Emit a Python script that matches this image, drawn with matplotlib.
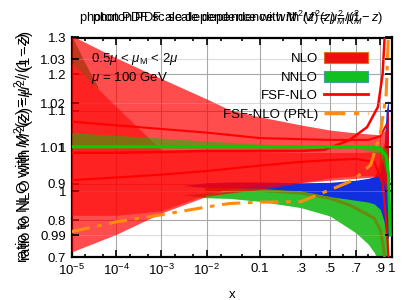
import numpy as np
import matplotlib
matplotlib.use("Agg")
import matplotlib.pyplot as plt
from matplotlib.patches import Patch
from matplotlib.lines import Line2D

plt.rcParams['font.family'] = ['Liberation Sans', 'DejaVu Sans']
plt.rcParams['mathtext.fontset'] = 'custom'
plt.rcParams['mathtext.rm'] = 'Liberation Sans'
plt.rcParams['mathtext.it'] = 'Liberation Sans:italic'

# ---- chart A (0.7 .. 1.3), wide scale variation ----
xa = [1e-5, 1e-4, 1e-3, 1e-2, 0.03, 0.1, 0.3, 0.5, 0.7, 0.9, 0.95, 0.97]
nlo_a_hi = [1.305, 1.244, 1.188, 1.132, 1.102, 1.083, 1.061, 1.047, 1.039, 1.034, 1.05, 1.1]
nlo_a_lo = [0.714, 0.762, 0.82, 0.866, 0.875, 0.885, 0.903, 0.91, 0.915, 0.92, 0.9, 0.85]

xg3 = [1e-5, 2e-5, 3e-5, 4e-5]
corner_hi = [1.305, 1.230, 1.189, 1.161]
corner_lo = [1.230, 1.194, 1.172, 1.159]

xg2 = [0.003, 0.01, 0.03, 0.1, 0.3, 0.5, 0.7, 0.8, 0.85, 0.9, 0.93, 0.95, 0.97]
low_hi = [0.87, 0.875, 0.88, 0.882, 0.88, 0.88, 0.89, 0.9, 0.92, 0.96, 1.0, 0.98, 0.9]
low_lo = [0.87, 0.862, 0.86, 0.852, 0.835, 0.812, 0.766, 0.735, 0.712, 0.68, 0.64, 0.6, 0.5]

xo = [0.01, 0.1, 0.3, 0.5, 0.65, 0.8, 0.85, 0.9, 0.93, 0.95]
olive = [0.885, 0.882, 0.875, 0.86, 0.842, 0.815, 0.805, 0.775, 0.72, 0.66]

xb = [0.003, 0.01, 0.03, 0.1, 0.3, 0.5, 0.7, 0.8, 0.85, 0.9, 0.93, 0.95, 0.97]
blue_hi = [0.895, 0.903, 0.905, 0.905, 0.903, 0.904, 0.91, 0.915, 0.92, 0.93, 0.98, 1.1, 1.13]
blue_lo = [0.895, 0.89, 0.886, 0.882, 0.88, 0.865, 0.855, 0.85, 0.845, 0.83, 0.8, 0.76, 0.75]

xl = [1e-5, 1e-4, 1e-3, 1e-2, 0.1, 0.3, 0.46, 0.65, 0.79, 0.88, 0.92, 0.94, 0.95]
fsf1 = [0.985, 0.985, 0.987, 0.99, 0.99, 0.99, 0.993, 1.02, 1.055, 1.11, 1.2, 1.32, 1.4]
xl2 = [1e-5, 1e-3, 1e-2, 0.1, 0.3, 0.5, 0.7, 0.85, 0.92, 0.95, 0.97]
fsf2 = [0.91, 0.925, 0.935, 0.95, 0.96, 0.965, 0.968, 0.96, 0.9, 0.8, 0.7]
xl3 = [1e-5, 1e-3, 1e-2, 0.1, 0.5, 0.8, 0.9, 0.95]
fsf3 = [1.07, 1.05, 1.04, 1.025, 1.02, 1.02, 1.03, 1.06]

# ---- chart B (0.985 .. 1.035), narrow ----
xr2 = [1e-5, 1e-4, 1e-3, 1e-2, 0.03, 0.1, 0.3, 0.5, 0.7, 0.9, 0.95, 0.97]
nlo_b_hi = [1.0292, 1.0192, 1.0094, 1.0092, 1.0091, 1.009, 1.0088, 1.0088, 1.0088, 1.009, 1.012, 1.02]
nlo_b_lo = [0.9945, 0.9945, 0.9955, 0.9993, 1.0005, 1.0015, 1.002, 1.003, 1.0035, 1.0035, 1.0, 0.99]

xg1 = [1e-5, 1e-4, 1e-3, 1e-2, 0.1, 0.3, 0.7, 0.9, 0.95, 0.97]
nnlo_b_hi = [1.0133, 1.0127, 1.0121, 1.0114, 1.0107, 1.0105, 1.0105, 1.0104, 1.0095, 1.007]
nnlo_b_lo = [1.0099, 1.0099, 1.0099, 1.0099, 1.0099, 1.0099, 1.0098, 1.0085, 1.004, 0.998]

xn = [1e-5, 1e-3, 0.1, 0.85, 0.9, 0.95, 0.97, 0.985]
nnlo_b = [1.0101, 1.0101, 1.0101, 1.0101, 1.0095, 1.008, 1.004, 0.99]

xp = [1e-5, 1e-4, 1e-3, 1e-2, 0.03, 0.1, 0.3, 0.5, 0.68, 0.82, 0.9, 0.95, 0.97]
prl = [0.9908, 0.993, 0.9946, 0.9964, 0.9972, 0.9975, 0.9976, 1.0003, 1.0025, 1.006, 1.013, 1.022, 1.036]

xticks = [1e-5, 1e-4, 1e-3, 1e-2, 0.1, 0.3, 0.5, 0.7, 0.9, 1.0]
xticklabels = ['$10^{-5}$', '$10^{-4}$', '$10^{-3}$', '$10^{-2}$', '0.1', '.3', '.5', '.7', '.9', '1']
xminor = [2e-5, 5e-5, 2e-4, 5e-4, 2e-3, 5e-3, 2e-2, 5e-2, 0.2, 0.4, 0.6, 0.8]
ya_ticks = [0.7, 0.8, 0.9, 1.0, 1.1, 1.2, 1.3]
ya_labels = ['0.7', '0.8', '0.9', '1', '1.1', '1.2', '1.3']
yb_ticks = [0.99, 1.0, 1.01, 1.02, 1.03]
yb_labels = ['0.99', '1', '1.01', '1.02', '1.03']

# x axis: ln(x) + 5x
_gx = np.logspace(-8, 0, 6000)
_gf = np.log(_gx) + 5 * _gx


def fwd(x):
    x = np.clip(np.asarray(x, dtype=float), 1e-12, None)
    return np.log(x) + 5 * x


def inv(f):
    return np.interp(f, _gf, _gx)


fig = plt.figure(figsize=(4.15, 3.0), dpi=100)
pos = [71.7 / 415, 1 - 257 / 300, (392 - 71.7) / 415, (257 - 37.5) / 300]
ax = fig.add_axes(pos)
ax2 = fig.add_axes(pos)
ax2.set_zorder(ax.get_zorder() + 1)
ax2.patch.set_visible(False)

for a in (ax, ax2):
    a.set_xscale('function', functions=(fwd, inv))
    a.set_xlim(1e-5, 1.0)

ax.set_ylim(0.7, 1.3)
ax2.set_ylim(0.985, 1.035)

RED = '#ff0000'
GREEN = '#00c000'
BLUE = '#1030e0'
ORANGE = '#ff8c10'

# chart A
ax.fill_between(xg3, corner_lo, corner_hi, color='#30c060', lw=0, zorder=2)
ax.fill_between(xg2, low_lo, low_hi, color='#30c030', lw=0, zorder=2)
ax.fill_between(xb, blue_lo, blue_hi, color=BLUE, lw=0, zorder=3)
ax.plot(xo, olive, color='#6a8a10', lw=2.2, zorder=4)
ax.fill_between(xa, nlo_a_lo, nlo_a_hi, color=RED, alpha=0.7, lw=0, zorder=5)
ax.plot(xl, fsf1, color=RED, lw=1.8, zorder=6)
ax.plot(xl2, fsf2, color=RED, lw=1.5, zorder=6)
ax.plot(xl3, fsf3, color=RED, lw=1.5, zorder=6)

# chart B
ax2.fill_between(xr2, nlo_b_lo, nlo_b_hi, color=RED, alpha=0.55, lw=0, zorder=2)
ax2.fill_between(xg1, nnlo_b_lo, nnlo_b_hi, color=GREEN, alpha=0.5, lw=0, zorder=3)
ax2.plot(xn, nnlo_b, color='#00d000', lw=2.2, zorder=4)
ax2.plot(xp, prl, color=ORANGE, lw=2.2, dashes=(6, 2.5, 1.5, 2.5), zorder=5)

# axes decorations
ax.set_xticks(xticks)
ax.set_xticklabels(xticklabels)
ax.set_xticks(xminor, minor=True)
ax.set_yticks(ya_ticks)
ax.set_yticklabels(ya_labels)
ax.grid(True, color='#a8a8a8', lw=0.8, zorder=0)
ax.set_axisbelow(True)
ax.tick_params(which='both', direction='in', top=True, right=True, labelsize=9.5, width=1.2)
ax.tick_params(which='major', length=5, pad=4)
ax.tick_params(which='minor', length=2.5)
for s in ax.spines.values():
    s.set_linewidth(1.6)

ax2.set_xticks([])
ax2.set_xticks([], minor=True)
ax2.set_yticks(yb_ticks)
ax2.set_yticklabels(yb_labels)
ax2.tick_params(which='both', direction='in', left=True, right=True, labelsize=9.5, width=1.2, length=5, pad=4)
ax2.grid(True, axis='y', color='#a8a8a8', lw=0.8, alpha=0.4)
for s in ax2.spines.values():
    s.set_visible(False)

ax.set_xlabel('x', fontsize=9.5, labelpad=8)

# overlapped y labels
ylab = r'ratio to NLO with $M^2(z) = \mu^2\,/\,(1-z)$'
fig.text(23 / 415, 1 - 148 / 300, ylab, rotation=90, ha='center', va='center', fontsize=10.8)
fig.text(26 / 415, 1 - 146 / 300, ylab, rotation=90, ha='center', va='center', fontsize=10.8)

# overlapped titles
fig.text(79 / 415, 1 - 18 / 300, r'photon PDF scale dependence with $M^2(z) = \mu_M^2/(1-z)$',
         ha='left', va='center', fontsize=9.3)
fig.text(92 / 415, 1 - 18 / 300, r'photon PDF: scale dependence with $M^2(z)=\mu_M^2$',
         ha='left', va='center', fontsize=9.3)

ax.text(91 / 415, 1 - 59 / 300, r'0.5$\mu$ < $\mu_\mathrm{M}$ < 2$\mu$', transform=fig.transFigure,
        ha='left', va='center', fontsize=9.5, zorder=10)
ax.text(91 / 415, 1 - 78 / 300, r'$\mu$ = 100 GeV', transform=fig.transFigure,
        ha='left', va='center', fontsize=9.5, zorder=10)

handles = [Patch(facecolor='#ee1010', edgecolor='#e07020', lw=0.8),
           Patch(facecolor='#10c020', edgecolor='#40a0a0', lw=0.8),
           Line2D([], [], color=RED, lw=2),
           Line2D([], [], color=ORANGE, lw=2.5, dashes=(6, 2.5, 1.5, 2.5))]
labels = ['NLO', 'NNLO', 'FSF-NLO', 'FSF-NLO (PRL)']
leg = ax2.legend(handles, labels, loc='upper right', bbox_to_anchor=(368 / 415, 1 - 52 / 300),
                 bbox_transform=fig.transFigure, frameon=False, markerfirst=False,
                 fontsize=9.5, handlelength=3.3, handleheight=0.9, labelspacing=0.42,
                 handletextpad=0.5, borderpad=0, borderaxespad=0)

fig.savefig('out.png', dpi=100)
